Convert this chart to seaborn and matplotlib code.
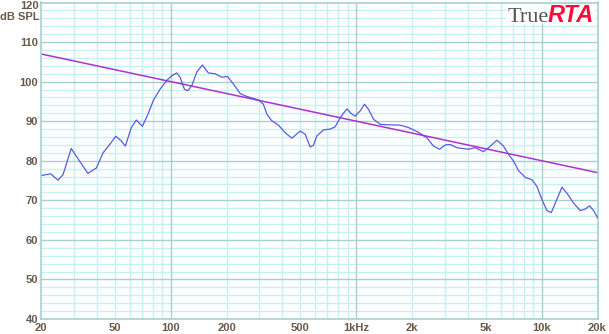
import numpy as np
import pandas as pd
import matplotlib
matplotlib.use("Agg")
import matplotlib.pyplot as plt
import seaborn as sns
from matplotlib.patches import Rectangle

# ---- data ----
freq = [20.25, 22.55, 24.7, 26.3, 29.1, 32.3, 35.8, 39.8, 43.2, 46.9, 50.6, 54.2, 57.0,
        61.4, 65.3, 70.4, 75.5, 80.7, 87.7, 95.3, 101.4, 107.9, 112.4, 118.6, 123.7,
        130.0, 138.3, 148.3, 159.7, 173.6, 188.6, 202.3, 217.8, 236.8, 252, 268, 297,
        316, 330, 351, 381, 414, 450, 499, 531, 565, 588, 614, 667, 724, 771, 820, 891,
        948, 988, 1051, 1109, 1165, 1240, 1348, 1464, 1728, 1915, 2125, 2406, 2612, 2814,
        3021, 3214, 3493, 4034, 4385, 4860, 5172, 5741, 6231, 6630, 7055, 7505, 8157,
        8866, 9435, 10030, 10680, 11270, 11840, 12870, 13690, 14860, 16160, 17190,
        18130, 19060, 20000]
spl = [76.3, 76.7, 75.1, 76.5, 83.1, 79.9, 76.8, 78.2, 82.0, 84.1, 86.2, 85.0, 83.7,
       88.4, 90.3, 88.7, 91.8, 95.3, 98.1, 100.3, 101.5, 102.2, 101.1, 98.1,
       97.7, 99.0, 102.4, 104.2, 102.2, 102.0, 101.1, 101.3, 99.4, 97.0, 96.4, 96.0,
       95.4, 94.3, 91.8, 90.1, 89.0, 87.1, 85.7, 87.5, 86.7, 83.5, 83.9, 86.3, 87.8,
       88.0, 88.6, 90.9, 93.1, 91.8, 91.3, 92.6, 94.3, 93.0, 90.5, 89.2, 89.1, 89.0,
       88.4, 87.4, 85.8, 83.7, 82.9, 84.0, 84.1, 83.3, 82.9, 83.3, 82.3, 83.3, 85.2,
       83.7, 81.6, 79.9, 77.5, 75.8, 75.2, 73.5, 70.2, 67.4, 66.9, 69.3, 73.3, 71.8,
       69.3, 67.4, 67.8, 68.6, 67.4, 65.6]
ref_freq = [20, 20000]
ref_spl = [107.0, 77.0]

x_ticks = [20, 50, 100, 200, 500, 1000, 2000, 5000, 10000, 20000]
x_labels = ["20", "50", "100", "200", "500", "1kHz", "2k", "5k", "10k", "20k"]
y_ticks = [40, 50, 60, 70, 80, 90, 100, 110]
y_top = 120

df = pd.DataFrame({"f": freq, "db": spl})
ref = pd.DataFrame({"f": ref_freq, "db": ref_spl})

sns.set_style("white")
plt.rcParams["font.family"] = ["Liberation Sans", "DejaVu Sans"]

W, H = 609, 334
fig = plt.figure(figsize=(W / 100, H / 100), dpi=100)
ax = fig.add_axes([41 / W, 1 - 319 / H, (597.5 - 41) / W, (319 - 2.5) / H])

ax.set_xscale("log")
ax.set_xlim(20, 20000)
ax.set_ylim(40, 120)

major_c = "#a6cfcf"
minor_c = "#c4f2f2"
# grid
for dec in [10, 100, 1000, 10000]:
    for m in range(1, 10):
        v = dec * m
        if 20 < v < 20000:
            ax.axvline(v, color=major_c if m == 1 else minor_c, lw=1.0, zorder=0.5 if m == 1 else 0.4)
for v in range(42, 120, 2):
    ax.axhline(v, color=major_c if v % 10 == 0 else minor_c, lw=1.0, zorder=0.5 if v % 10 == 0 else 0.4)

sns.lineplot(data=df, x="f", y="db", ax=ax, color="#5a5ae0", lw=0.9, zorder=3, sort=False)
sns.lineplot(data=ref, x="f", y="db", ax=ax, color="#b030d0", lw=1.1, zorder=2.5)

for s in ax.spines.values():
    s.set_color(major_c)
    s.set_linewidth(1.2)

lab_c = "#6a5848"
ax.set_xticks(x_ticks)
ax.set_xticklabels(x_labels)
ax.set_xticks([], minor=True)
ax.set_yticks(y_ticks)
ax.set_yticks([], minor=True)
ax.tick_params(axis="both", length=0, labelsize=8, labelcolor=lab_c)
ax.tick_params(axis="x", pad=3)
ax.tick_params(axis="y", pad=2)
for t in ax.get_xticklabels() + ax.get_yticklabels():
    t.set_fontweight("bold")
ax.set_xlabel("")
ax.set_ylabel("")

fig.text(39 / W, 1 - 6 / H, str(y_top), ha="right", va="center", fontsize=8,
         fontweight="bold", color=lab_c)
fig.text(39 / W, 1 - 16.5 / H, "dB SPL", ha="right", va="center", fontsize=8,
         fontweight="bold", color=lab_c)

# TrueRTA logo
ax.add_patch(Rectangle((506, H - 24), 89, 20, transform=None, facecolor="white",
                       edgecolor="none", zorder=4))
fig.text(508 / W, 1 - 22 / H, "True", ha="left", va="baseline", fontsize=16,
         family="Liberation Serif", color="#555555", zorder=6)
fig.text(594 / W, 1 - 22 / H, "RTA", ha="right", va="baseline", fontsize=17,
         fontweight="bold", style="italic", color="#ff0a3c", zorder=6)

fig.savefig("out.png", dpi=100)
